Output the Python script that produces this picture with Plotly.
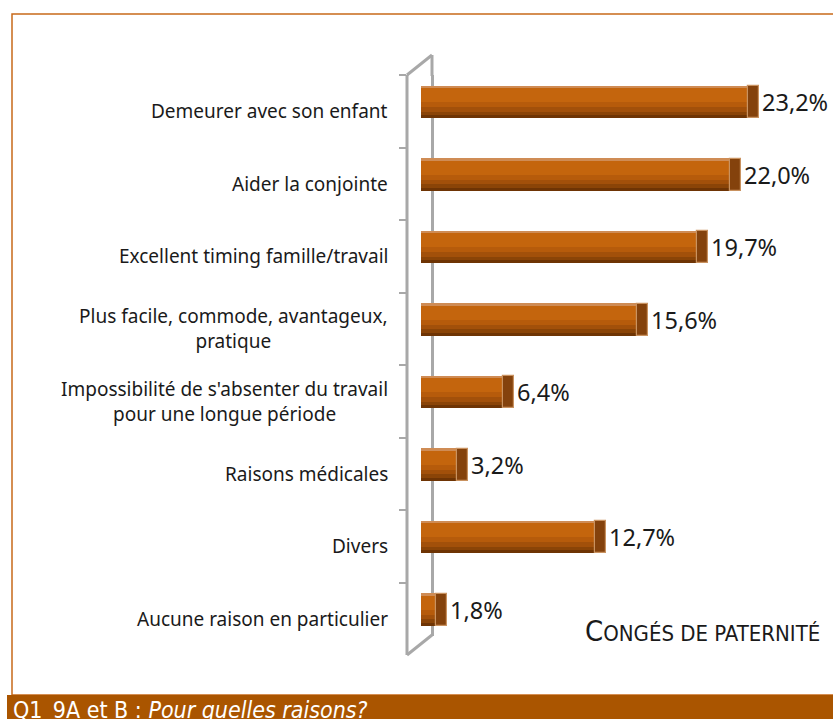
import plotly.graph_objects as go

categories = [
    "Demeurer avec son enfant",
    "Aider la conjointe",
    "Excellent timing famille/travail",
    "Plus facile, commode, avantageux,<br>pratique",
    "Impossibilité de s'absenter du travail<br>pour une longue période",
    "Raisons médicales",
    "Divers",
    "Aucune raison en particulier",
]
values = [23.2, 22.0, 19.7, 15.6, 6.4, 3.2, 12.7, 1.8]
labels = [f"{v:.1f}".replace(".", ",") + "%" for v in values]
cat_ids = [f"c{i}" for i in range(len(categories))]

W, H = 833, 719
L, R, T, B = 407, 810, 75, 655   # plot area in pixels
ZERO_PX, SCALE = 421, 14.55
xmin = (L - ZERO_PX) / SCALE
xmax = (R - ZERO_PX) / SCALE
BACK_WALL = (432 - ZERO_PX) / SCALE   # x position of the rear edge of the 3D wall

def px(xp):
    return (xp - L) / (R - L)

def py(yp):
    return (B - yp) / (B - T)

fig = go.Figure()

BW = 0.44
OFF = -0.344
# cylinder shading bands (start, end within the bar, top -> bottom)
bands = [
    (0.00, 0.44, "#6e3404"),
    (0.00, 0.40, "#8a4407"),
    (0.00, 0.35, "#a2500a"),
    (0.00, 0.29, "#b65b0b"),
    (0.02, 0.22, "#c4650d"),
    (0.00, 0.025, "#cf8c55"),
]
for i, (s, e, col) in enumerate(bands):
    fig.add_trace(go.Bar(
        y=cat_ids, x=values, orientation="h",
        width=e - s, offset=OFF + s,
        marker=dict(color=col, line=dict(width=0)),
        text=labels if i == 0 else None,
        textposition="outside" if i == 0 else "none",
        textfont=dict(family="Noto Sans", size=23.5, color="#1a1a1a"),
        cliponaxis=False, constraintext="none",
        hoverinfo="skip", showlegend=False,
    ))

# end caps of the cylinders
cap = 0.75
fig.add_trace(go.Bar(
    y=cat_ids, x=[cap] * len(values), base=[v - cap for v in values],
    orientation="h", width=BW, offset=OFF,
    marker=dict(color="#84420c", line=dict(width=1.2, color="#c99260")),
    hoverinfo="skip", showlegend=False, cliponaxis=False,
))

WALL_C = "#a8a8a8"
shapes = []
# orange frame
shapes.append(dict(type="rect", xref="paper", yref="paper",
                   x0=px(12), x1=px(860), y0=py(695), y1=py(14),
                   line=dict(color="#c8691a", width=1.5), fillcolor="rgba(0,0,0,0)",
                   layer="below"))
# footer band
shapes.append(dict(type="rect", xref="paper", yref="paper",
                   x0=px(7), x1=px(860), y0=py(740), y1=py(695),
                   line=dict(width=0), fillcolor="#aa5500", layer="above"))
# 3D wall (rear edge inside plot = x gridline; here: top part, bottom mask, slants)
wall = dict(color=WALL_C, width=3)
shapes += [
    dict(type="line", xref="paper", yref="paper", x0=px(432), x1=px(432), y0=py(76), y1=py(55), line=wall, layer="above"),
    dict(type="rect", xref="paper", yref="paper", x0=px(410), x1=px(436), y0=py(658), y1=py(636),
         line=dict(width=0), fillcolor="white", layer="above"),
    dict(type="line", xref="paper", yref="paper", x0=px(407), x1=px(407), y0=py(655), y1=py(75), line=wall, layer="above"),
    dict(type="line", xref="paper", yref="paper", x0=px(407), x1=px(432), y0=py(75), y1=py(55), line=wall, layer="above"),
    dict(type="line", xref="paper", yref="paper", x0=px(407), x1=px(432), y0=py(655), y1=py(635), line=wall, layer="above"),
]

annotations = []
for cid, lab in zip(cat_ids, categories):
    annotations.append(dict(
        xref="paper", yref="y", x=0, y=cid, xanchor="right", yanchor="middle",
        xshift=-17, text=lab, showarrow=False, align="center",
        font=dict(family="Noto Sans", size=19, color="#1a1a1a"),
    ))

NARROW = "DejaVu Sans Condensed, Liberation Sans Narrow, Arial Narrow, sans-serif"
annotations.append(dict(
    xref="paper", yref="paper", x=px(822), y=py(650), xanchor="right", yanchor="bottom",
    showarrow=False,
    text=("<span style='font-size:29px'>C</span>ONGÉS DE PATERNITÉ"),
    font=dict(family=NARROW, size=22, color="#1a1a1a"),
))
annotations.append(dict(
    xref="paper", yref="paper", x=px(11), y=py(695), xanchor="left", yanchor="top",
    showarrow=False,
    text="Q1_9A et B : <i>Pour quelles raisons?</i>",
    font=dict(family=NARROW, size=23, color="#ffffff"),
))

fig.update_layout(
    width=W, height=H,
    margin=dict(l=L, r=W - R, t=T, b=H - B, pad=0),
    paper_bgcolor="white", plot_bgcolor="white",
    barmode="overlay", bargap=0,
    shapes=shapes, annotations=annotations,
    xaxis=dict(range=[xmin, xmax], fixedrange=True, showticklabels=False, ticks="",
               showline=False, zeroline=False, showgrid=True,
               tickvals=[BACK_WALL], gridcolor=WALL_C, gridwidth=3),
    yaxis=dict(
        categoryorder="array", categoryarray=cat_ids, autorange="reversed",
        showticklabels=False, ticks="outside", tickson="boundaries",
        ticklen=7, tickcolor=WALL_C, tickwidth=1.5,
        showgrid=False, zeroline=False, showline=False, fixedrange=True,
    ),
)

fig.write_html("out.html", config={"displayModeBar": False},
               post_script="document.body.style.margin='0';document.body.style.overflow='hidden';")
